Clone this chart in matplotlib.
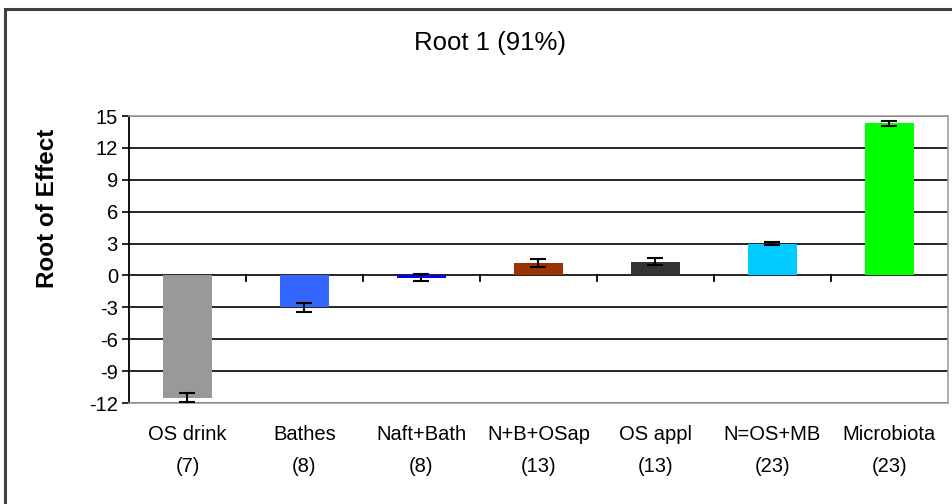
import matplotlib
matplotlib.use("Agg")
import matplotlib.pyplot as plt
from matplotlib.patches import Rectangle
from matplotlib.transforms import blended_transform_factory
import numpy as np

plt.rcParams['font.family'] = ['Liberation Sans', 'DejaVu Sans']

cat_names = ["OS drink", "Bathes", "Naft+Bath", "N+B+OSap", "OS appl", "N=OS+MB", "Microbiota"]
cat_counts = ["(7)", "(8)", "(8)", "(13)", "(13)", "(23)", "(23)"]
values = [-11.5, -3.0, -0.2, 1.15, 1.3, 3.0, 14.3]
errors = [0.4, 0.45, 0.35, 0.38, 0.3, 0.1, 0.2]
colors = ["#999999", "#3366FF", "#0000FF", "#993300", "#333333", "#00CCFF", "#00FF00"]
yticks = [-12, -9, -6, -3, 0, 3, 6, 9, 12, 15]

fig = plt.figure(figsize=(9.53, 5.04), dpi=100)
W, H = 953, 504
ax = fig.add_axes([129 / W, 1 - 403 / H, (948 - 129) / W, (403 - 116) / H])

# outer frame
fig.patches.append(Rectangle((5 / W, -0.1), 1.2, 1 - 9 / H + 0.1, transform=fig.transFigure,
                             fill=False, edgecolor="#404040", linewidth=2.2))

x = np.arange(len(values))
for yt in yticks:
    ax.axhline(yt, color="black", linewidth=1.2, zorder=1)

ax.bar(x, values, width=0.42, color=colors, zorder=2)
ax.errorbar(x, values, yerr=errors, fmt="none", ecolor="black", elinewidth=1.5,
            capsize=6, capthick=1.5, zorder=3)

ax.set_xlim(-0.5, len(values) - 0.5)
ax.set_ylim(-12, 15)
ax.set_yticks(yticks)
ax.set_yticklabels([str(t) for t in yticks], fontsize=14.5)
ax.tick_params(axis="y", length=5, width=1.2, direction="out", pad=3)
ax.set_xticks([])

# category boundary ticks on the zero line
for b in np.arange(0.5, len(values) - 0.5, 1.0):
    ax.plot([b, b], [0, -0.5], color="black", linewidth=1.3, zorder=3, clip_on=False)

tr = blended_transform_factory(ax.transData, fig.transFigure)
for i in range(len(values)):
    ax.text(i, 1 - 435 / H, cat_names[i], ha="center", va="center", fontsize=14.5, transform=tr)
    ax.text(i, 1 - 466 / H, cat_counts[i], ha="center", va="center", fontsize=14.5, transform=tr)

for side in ["top", "right", "bottom"]:
    ax.spines[side].set_color("#A0A0A0")
    ax.spines[side].set_linewidth(1.2)
ax.spines["left"].set_color("black")
ax.spines["left"].set_linewidth(1.3)

fig.text(48 / W, 1 - 208 / H, "Root of Effect", ha="center", va="center", rotation=90,
         fontsize=17.5, fontweight="bold")
fig.text(490 / W, 1 - 43 / H, "Root 1 (91%)", ha="center", va="center", fontsize=18.5)

fig.savefig("out.png", dpi=100)
